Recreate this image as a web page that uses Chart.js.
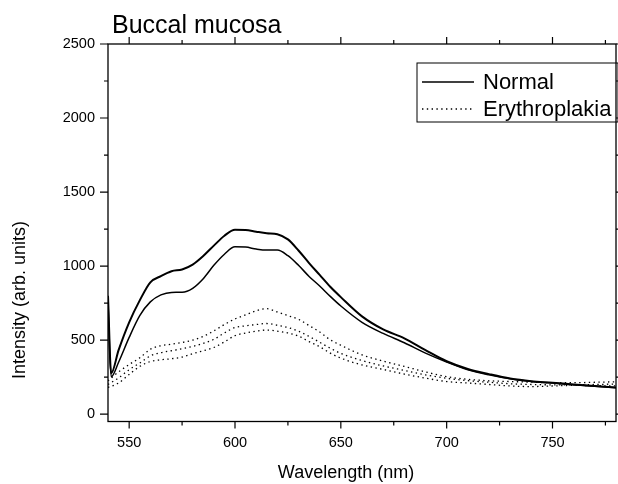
<!DOCTYPE html>
<html>
<head>
<meta charset="utf-8">
<script src="https://cdn.jsdelivr.net/npm/chart.js@4/dist/chart.umd.min.js"></script>
<style>
  html, body { margin: 0; padding: 0; background: #fff; }
  #box { width: 618px; height: 484px; }
</style>
</head>
<body>
<div id="box"><canvas id="myChart"></canvas></div>
<script>
"use strict";

// Wavelengths (nm) used for the two Normal spectra
const wlNormal = [540, 541.5, 545, 550, 555, 560, 565, 570, 575, 580, 585, 590, 595, 600, 605, 610, 615, 620, 625, 630, 635, 640, 645, 650, 660, 670, 680, 690, 700, 710, 720, 730, 740, 750, 760, 770, 780];
const normalA = [800, 275, 432, 620, 768, 890, 932, 965, 977, 1010, 1068, 1138, 1205, 1245, 1243, 1232, 1222, 1215, 1180, 1105, 1020, 940, 860, 790, 660, 572, 512, 432, 357, 305, 270, 240, 222, 212, 200, 190, 180];
const normalB = [760, 252, 350, 518, 665, 758, 805, 822, 823, 850, 915, 1005, 1080, 1130, 1128, 1115, 1108, 1108, 1070, 1005, 930, 865, 795, 730, 620, 545, 482, 412, 352, 300, 265, 238, 220, 210, 198, 188, 178];

// Wavelengths (nm) used for the three Erythroplakia spectra
const wlEry = [540, 545, 550, 555, 560, 565, 570, 575, 580, 585, 590, 595, 600, 605, 610, 615, 620, 625, 630, 635, 640, 645, 650, 660, 670, 680, 690, 700, 710, 720, 730, 740, 750, 760, 770, 780];
const eryA = [225, 285, 335, 380, 438, 462, 472, 484, 500, 525, 562, 605, 643, 670, 698, 712, 690, 665, 640, 598, 555, 502, 465, 400, 358, 322, 285, 253, 235, 225, 220, 216, 212, 212, 215, 218];
const eryB = [200, 245, 300, 345, 393, 415, 428, 442, 457, 478, 505, 548, 585, 596, 605, 612, 600, 585, 560, 525, 485, 445, 410, 362, 325, 295, 265, 242, 226, 215, 205, 200, 198, 198, 200, 203];
const eryC = [180, 210, 268, 322, 355, 367, 374, 385, 408, 428, 450, 488, 530, 548, 560, 568, 560, 548, 527, 490, 455, 412, 378, 332, 302, 270, 243, 220, 210, 200, 190, 186, 190, 194, 192, 190];

// Tick positions (minor and major); labels only on the major ones
const xTicks = [550, 575, 600, 625, 650, 675, 700, 725, 750, 775];
const xLabelled = [550, 600, 650, 700, 750];
const yTicks = [0, 250, 500, 750, 1000, 1250, 1500, 1750, 2000, 2250, 2500];
const yLabelled = [0, 500, 1000, 1500, 2000, 2500];

const xMin = 540, xMax = 780;
const yMin = -50, yMax = 2500;

const titleText = "Buccal mucosa";
const xTitle = "Wavelength (nm)";
const yTitle = "Intensity (arb. units)";
const legendLabels = ["Normal", "Erythroplakia"];

const fontFamily = "'Liberation Sans', Arial, Helvetica, sans-serif";

function toPoints(xs, ys) {
	return xs.map(function (x, i) {
		return { x: x, y: ys[i] };
	});
}

function lineSet(label, xs, ys, width, dash) {
	return {
		label: label,
		data: toPoints(xs, ys),
		borderColor: "#000",
		backgroundColor: "#000",
		borderWidth: width,
		borderDash: dash,
		borderCapStyle: "butt",
		pointRadius: 0,
		cubicInterpolationMode: "monotone",
		fill: false,
	};
}

const dotted = [1.4, 3.4];

// Frame, tick marks, titles and the boxed legend
const decorations = {
	id: "decorations",
	afterDraw(chart) {
		const ctx = chart.ctx;
		const area = chart.chartArea;
		const xs = chart.scales.x;
		const ys = chart.scales.y;

		ctx.save();
		ctx.strokeStyle = "#000";
		ctx.lineWidth = 1.3;
		ctx.strokeRect(area.left, area.top, area.right - area.left, area.bottom - area.top);

		ctx.lineWidth = 1.2;
		ctx.beginPath();
		xTicks.forEach(function (v) {
			const len = xLabelled.includes(v) ? 7 : 4;
			const px = xs.getPixelForValue(v);
			ctx.moveTo(px, area.bottom);
			ctx.lineTo(px, area.bottom + len);
			ctx.moveTo(px, area.top);
			ctx.lineTo(px, area.top - len);
		});
		yTicks.forEach(function (v) {
			const len = yLabelled.includes(v) ? 8 : 4;
			const py = ys.getPixelForValue(v);
			ctx.moveTo(area.left, py);
			ctx.lineTo(area.left - len, py);
			ctx.moveTo(area.right, py);
			ctx.lineTo(area.right + len, py);
		});
		ctx.stroke();

		// chart title
		ctx.fillStyle = "#000";
		ctx.textAlign = "left";
		ctx.textBaseline = "alphabetic";
		ctx.font = "25px " + fontFamily;
		ctx.fillText(titleText, area.left + 4, 33);

		// axis titles
		ctx.font = "18px " + fontFamily;
		ctx.textAlign = "center";
		ctx.fillText(xTitle, (area.left + area.right) / 2 - 16, 478);
		ctx.save();
		ctx.translate(25, 300);
		ctx.rotate(-Math.PI / 2);
		ctx.fillText(yTitle, 0, 0);
		ctx.restore();

		// legend box
		const boxLeft = area.right - 199;
		const boxTop = area.top + 19;
		ctx.lineWidth = 1;
		ctx.strokeRect(boxLeft, boxTop, area.right - boxLeft + 2, 59);
		ctx.font = "22px " + fontFamily;
		ctx.textAlign = "left";
		const rows = [
			{ text: legendLabels[0], dash: [], width: 1.6, lineY: boxTop + 19, textY: boxTop + 26 },
			{ text: legendLabels[1], dash: dotted, width: 1.3, lineY: boxTop + 46, textY: boxTop + 53 },
		];
		rows.forEach(function (r) {
			ctx.beginPath();
			ctx.setLineDash(r.dash);
			ctx.lineWidth = r.width;
			ctx.moveTo(boxLeft + 5, r.lineY);
			ctx.lineTo(boxLeft + 57, r.lineY);
			ctx.stroke();
			ctx.setLineDash([]);
			ctx.fillText(r.text, boxLeft + 66, r.textY);
		});
		ctx.restore();
	},
};

function plainLabel(value) {
	return String(value);
}

const ctx = document.getElementById("myChart");

new Chart(ctx, {
	type: "line",
	data: {
		datasets: [
			lineSet(legendLabels[0], wlNormal, normalA, 2, []),
			lineSet(legendLabels[0], wlNormal, normalB, 1.5, []),
			lineSet(legendLabels[1], wlEry, eryA, 1.3, dotted),
			lineSet(legendLabels[1], wlEry, eryB, 1.3, dotted),
			lineSet(legendLabels[1], wlEry, eryC, 1.3, dotted),
		],
	},
	options: {
		responsive: true,
		maintainAspectRatio: false,
		animation: false,
		layout: {
			padding: { top: 44, right: 2, left: 0, bottom: 0 },
		},
		scales: {
			x: {
				type: "linear",
				min: xMin,
				max: xMax,
				afterBuildTicks: function (scale) {
					scale.ticks = xLabelled.map(function (v) {
						return { value: v };
					});
				},
				afterFit: function (scale) {
					scale.height = 62.5;
				},
				grid: { display: false, drawTicks: false },
				border: { display: false },
				ticks: {
					autoSkip: false,
					maxRotation: 0,
					padding: 13,
					color: "#000",
					font: { family: fontFamily, size: 14.5 },
					callback: plainLabel,
				},
			},
			y: {
				min: yMin,
				max: yMax,
				afterBuildTicks: function (scale) {
					scale.ticks = yLabelled.map(function (v) {
						return { value: v };
					});
				},
				afterFit: function (scale) {
					scale.width = 108;
				},
				grid: { display: false, drawTicks: false },
				border: { display: false },
				ticks: {
					autoSkip: false,
					padding: 13,
					color: "#000",
					font: { family: fontFamily, size: 14.5 },
					callback: plainLabel,
				},
			},
		},
		plugins: {
			legend: { display: false },
			tooltip: { enabled: false },
		},
	},
	plugins: [decorations],
});
</script>
</body>
</html>
